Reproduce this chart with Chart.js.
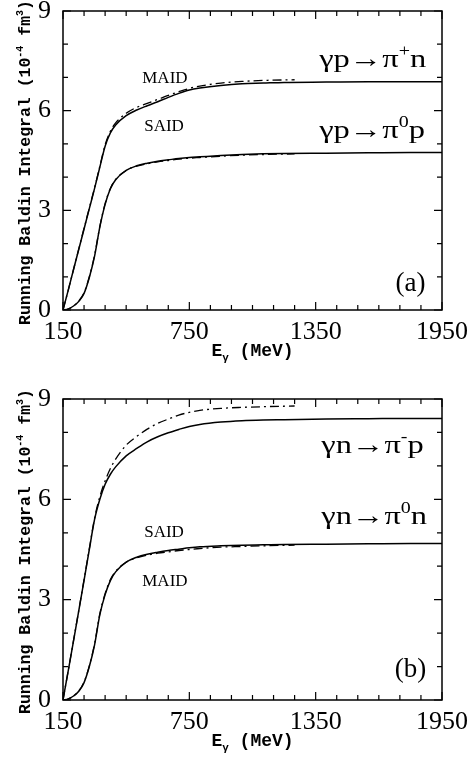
<!DOCTYPE html>
<html>
<head>
<meta charset="utf-8">
<script src="https://cdn.jsdelivr.net/npm/chart.js@4.4.1/dist/chart.umd.min.js"></script>
<style>
html, body { margin: 0; padding: 0; background: #fff; }
#wrap { position: relative; width: 476px; height: 760px; }
canvas { position: absolute; left: 0; }
</style>
</head>
<body>
<div id="wrap">
  <canvas id="chartA" width="476" height="380" style="top:0"></canvas>
  <canvas id="chartB" width="476" height="380" style="top:380px"></canvas>
</div>
<script>
// photon energies (MeV) of the two analyses
const energySaid = [150,175,200,225,250,275,300,325,350,375,400,450,500,550,600,650,700,750,800,900,1000,1100,1200,1400,1600,1800,1950];
const energyMaid = [150,175,200,225,250,275,300,325,350,375,400,450,500,550,600,650,700,750,800,900,1000,1100,1250];

// running Baldin integral, 10^-4 fm^3
// panel (a): proton
const piPlusN_said = [0,0.6,1.22,1.83,2.44,3.05,3.66,4.3,4.93,5.33,5.57,5.85,6.02,6.15,6.27,6.4,6.52,6.62,6.68,6.76,6.81,6.83,6.85,6.86,6.87,6.87,6.87];
const piPlusN_maid = [0,0.6,1.22,1.84,2.46,3.07,3.68,4.33,4.97,5.38,5.63,5.92,6.1,6.22,6.34,6.46,6.57,6.67,6.74,6.83,6.88,6.91,6.93];
const piZeroP_said = [0,0.03,0.12,0.26,0.5,0.98,1.62,2.5,3.18,3.65,3.92,4.2,4.34,4.42,4.48,4.52,4.56,4.59,4.61,4.65,4.68,4.7,4.71,4.72,4.73,4.74,4.74];
const piZeroP_maid = [0,0.03,0.12,0.27,0.52,1.0,1.65,2.52,3.2,3.66,3.93,4.2,4.33,4.4,4.46,4.5,4.54,4.57,4.59,4.63,4.66,4.68,4.7];
// panel (b): neutron
const piMinusP_said = [0,0.88,1.77,2.67,3.58,4.5,5.4,6.0,6.45,6.75,6.97,7.3,7.52,7.72,7.87,7.99,8.09,8.18,8.24,8.31,8.35,8.37,8.38,8.4,8.41,8.42,8.42];
const piMinusP_maid = [0,0.88,1.78,2.68,3.6,4.52,5.44,6.08,6.55,6.92,7.2,7.62,7.88,8.1,8.27,8.4,8.52,8.6,8.66,8.72,8.75,8.77,8.79];
const piZeroN_said = [0,0.03,0.12,0.26,0.52,1.0,1.65,2.55,3.15,3.57,3.83,4.12,4.27,4.36,4.42,4.47,4.51,4.55,4.58,4.61,4.63,4.64,4.65,4.66,4.67,4.68,4.68];
const piZeroN_maid = [0,0.03,0.12,0.27,0.54,1.02,1.68,2.58,3.18,3.6,3.85,4.12,4.25,4.33,4.39,4.43,4.47,4.5,4.53,4.57,4.59,4.61,4.63];

// axis ticks
const xTickLabels = [150, 750, 1350, 1950];
const yTickLabels = [0, 3, 6, 9];
const xMinorStep = 100;
const yMinorStep = 1;

const serif = "'Liberation Serif', 'DejaVu Serif', serif";
const mono = "'Liberation Mono', 'DejaVu Sans Mono', monospace";

function toPoints(xs, ys) {
    return xs.map((e, i) => ({ x: e, y: ys[i] }));
}

// draw text made of pieces, some of them raised or lowered
function drawRich(ctx, parts, x, y, size, family, align, weight, stretch) {
    weight = weight || '';
    stretch = stretch || 1;
    const sizes = parts.map(p => p[1] ? Math.round(size * 0.62) : size);
    let w = 0;
    parts.forEach((p, i) => { ctx.font = weight + ' ' + sizes[i] + 'px ' + family; w += ctx.measureText(p[0]).width; });
    ctx.save();
    ctx.translate(x, y);
    ctx.scale(stretch, 1);
    let cx = align === 'center' ? -w / 2 : 0;
    parts.forEach((p, i) => {
        ctx.font = weight + ' ' + sizes[i] + 'px ' + family;
        let dy = 0;
        if (p[1] === 'sup') dy = -size * 0.42;
        if (p[1] === 'sub') dy = size * 0.3;
        ctx.fillText(p[0], cx, dy);
        cx += ctx.measureText(p[0]).width;
    });
    ctx.restore();
}

const framePlugin = {
    id: 'frame',
    afterDatasetsDraw(chart) {
        const { ctx, chartArea: a, scales: { x, y } } = chart;
        const o = chart.options.plugins.frame;
        ctx.save();
        ctx.strokeStyle = '#000';
        ctx.lineWidth = 1.5;
        ctx.strokeRect(a.left, a.top, a.right - a.left, a.bottom - a.top);

        // inward ticks on all four sides
        ctx.lineWidth = 1.2;
        ctx.beginPath();
        for (let e = x.min; e <= x.max; e += xMinorStep) {
            const px = x.getPixelForValue(e);
            const len = xTickLabels.includes(e) ? 8 : 5;
            ctx.moveTo(px, a.bottom); ctx.lineTo(px, a.bottom - len);
            ctx.moveTo(px, a.top); ctx.lineTo(px, a.top + len);
        }
        for (let v = y.min; v <= y.max; v += yMinorStep) {
            const py = y.getPixelForValue(v);
            const len = yTickLabels.includes(v) ? 8 : 5;
            ctx.moveTo(a.left, py); ctx.lineTo(a.left + len, py);
            ctx.moveTo(a.right, py); ctx.lineTo(a.right - len, py);
        }
        ctx.stroke();

        ctx.fillStyle = '#000';
        ctx.textBaseline = 'alphabetic';
        ctx.textAlign = 'left';

        // axis titles
        drawRich(ctx, [['E', ''], ['γ', 'sub'], [' (MeV)', '']],
            (a.left + a.right) / 2, a.bottom + 46, 18, mono, 'center', 'bold');
        ctx.save();
        ctx.translate(25, (a.top + a.bottom) / 2 + 2);
        ctx.rotate(-Math.PI / 2);
        drawRich(ctx, [['Running Baldin Integral (10', ''], ['-4', 'sup'], [' fm', ''], ['3', 'sup'], [')', '']],
            0, 5, 16.5, mono, 'center', 'bold');
        ctx.restore();

        // text labels inside the frame
        o.labels.forEach(l => {
            const px = x.getPixelForValue(l.at[0]);
            const py = y.getPixelForValue(l.at[1]);
            if (l.kind === 'model') {
                drawRich(ctx, [[l.text, '']], px, py, 17, serif, 'center');
            } else if (l.kind === 'panel') {
                drawRich(ctx, [[l.text, '']], px, py, 27, serif, 'center');
            } else {
                drawRich(ctx, l.parts, px, py, 26, serif, 'left', '', 1.25);
            }
        });
        ctx.restore();
    }
};

function makePanel(id, topPad, xHeight, sets, labels) {
    const datasets = [];
    sets.forEach(s => {
        datasets.push({
            data: toPoints(energyMaid, s.maid),
            borderColor: '#000', borderWidth: 1.3, borderDash: [9, 4, 2, 4],
            pointRadius: 0, fill: false, cubicInterpolationMode: 'monotone'
        });
        datasets.push({
            data: toPoints(energySaid, s.said),
            borderColor: '#000', borderWidth: 1.5,
            pointRadius: 0, fill: false, cubicInterpolationMode: 'monotone'
        });
    });
    return new Chart(document.getElementById(id), {
        type: 'line',
        data: { datasets: datasets },
        plugins: [framePlugin],
        options: {
            responsive: false,
            animation: false,
            devicePixelRatio: 1,
            layout: { padding: { top: topPad, right: 34, left: 0, bottom: 0 } },
            plugins: {
                legend: { display: false },
                tooltip: { enabled: false },
                frame: { labels: labels }
            },
            scales: {
                x: {
                    type: 'linear', min: 150, max: 1950,
                    grid: { display: false, drawTicks: false },
                    border: { display: false },
                    afterBuildTicks: s => { s.ticks = xTickLabels.map(v => ({ value: v })); },
                    afterFit: s => { s.height = xHeight; s.paddingLeft = 0; s.paddingRight = 0; },
                    ticks: {
                        autoSkip: false, maxRotation: 0, padding: 7, color: '#000',
                        font: { family: serif, size: 26 },
                        callback: v => String(v)
                    }
                },
                y: {
                    type: 'linear', min: 0, max: 9,
                    grid: { display: false, drawTicks: false },
                    border: { display: false },
                    afterBuildTicks: s => { s.ticks = yTickLabels.map(v => ({ value: v })); },
                    afterFit: s => { s.width = 63; s.paddingTop = 0; s.paddingBottom = 0; },
                    ticks: {
                        padding: 12, color: '#000',
                        font: { family: serif, size: 26 },
                        callback: v => String(v)
                    }
                }
            }
        }
    });
}

makePanel('chartA', 11, 70, [
    { said: piPlusN_said, maid: piPlusN_maid },
    { said: piZeroP_said, maid: piZeroP_maid }
], [
    { kind: 'model', text: 'MAID', at: [634, 6.84] },
    { kind: 'model', text: 'SAID', at: [630, 5.38] },
    { kind: 'reaction', parts: [['γp→π', ''], ['+', 'sup'], ['n', '']], at: [1367, 7.32] },
    { kind: 'reaction', parts: [['γp→π', ''], ['0', 'sup'], ['p', '']], at: [1367, 5.17] },
    { kind: 'panel', text: '(a)', at: [1800, 0.58] }
]);

makePanel('chartB', 19, 60, [
    { said: piMinusP_said, maid: piMinusP_maid },
    { said: piZeroN_said, maid: piZeroN_maid }
], [
    { kind: 'model', text: 'SAID', at: [630, 4.86] },
    { kind: 'model', text: 'MAID', at: [634, 3.42] },
    { kind: 'reaction', parts: [['γn→π', ''], ['-', 'sup'], ['p', '']], at: [1377, 7.38] },
    { kind: 'reaction', parts: [['γn→π', ''], ['0', 'sup'], ['n', '']], at: [1377, 5.26] },
    { kind: 'panel', text: '(b)', at: [1800, 0.7] }
]);
</script>
</body>
</html>
